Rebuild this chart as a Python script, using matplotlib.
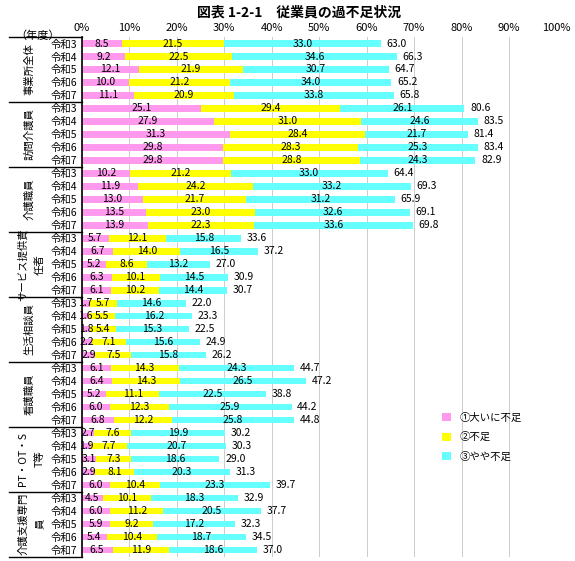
import numpy as np
import matplotlib.pyplot as plt

plt.rcParams['font.family'] = ['Noto Sans CJK JP', 'DejaVu Sans']

groups = [["事業所全体"], ["訪問介護員"], ["介護職員"], ["サービス提供責", "任者"],
          ["生活相談員"], ["看護職員"], ["PT・OT・S", "T等"], ["介護支援専門", "員"]]
years = ["令和3", "令和4", "令和5", "令和6", "令和7"]

big = [8.5, 9.2, 12.1, 10.0, 11.1,
       25.1, 27.9, 31.3, 29.8, 29.8,
       10.2, 11.9, 13.0, 13.5, 13.9,
       5.7, 6.7, 5.2, 6.3, 6.1,
       1.7, 1.6, 1.8, 2.2, 2.9,
       6.1, 6.4, 5.2, 6.0, 6.8,
       2.7, 1.9, 3.1, 2.9, 6.0,
       4.5, 6.0, 5.9, 5.4, 6.5]
short = [21.5, 22.5, 21.9, 21.2, 20.9,
         29.4, 31.0, 28.4, 28.3, 28.8,
         21.2, 24.2, 21.7, 23.0, 22.3,
         12.1, 14.0, 8.6, 10.1, 10.2,
         5.7, 5.5, 5.4, 7.1, 7.5,
         14.3, 14.3, 11.1, 12.3, 12.2,
         7.6, 7.7, 7.3, 8.1, 10.4,
         10.1, 11.2, 9.2, 10.4, 11.9]
some = [33.0, 34.6, 30.7, 34.0, 33.8,
        26.1, 24.6, 21.7, 25.3, 24.3,
        33.0, 33.2, 31.2, 32.6, 33.6,
        15.8, 16.5, 13.2, 14.5, 14.4,
        14.6, 16.2, 15.3, 15.6, 15.8,
        24.3, 26.5, 22.5, 25.9, 25.8,
        19.9, 20.7, 18.6, 20.3, 23.3,
        18.3, 20.5, 17.2, 18.7, 18.6]
total = [63.0, 66.3, 64.7, 65.2, 65.8,
         80.6, 83.5, 81.4, 83.4, 82.9,
         64.4, 69.3, 65.9, 69.1, 69.8,
         33.6, 37.2, 27.0, 30.9, 30.7,
         22.0, 23.3, 22.5, 24.9, 26.2,
         44.7, 47.2, 38.8, 44.2, 44.8,
         30.2, 30.3, 29.0, 31.3, 39.7,
         32.9, 37.7, 32.3, 34.5, 37.0]

c1, c2, c3 = '#ff99ee', '#ffff00', '#66ffff'
n = len(big)
y = np.arange(n)
big, short, some = np.array(big), np.array(short), np.array(some)

fig = plt.figure(figsize=(5.75, 5.61), dpi=100)
ax = fig.add_axes([0.142, 0.008, 0.826, 0.926])
ax.barh(y, big, height=0.5, color=c1, label='①大いに不足')
ax.barh(y, short, left=big, height=0.5, color=c2, label='②不足')
ax.barh(y, some, left=big + short, height=0.5, color=c3, label='③やや不足')
fs = 7.5
for i in range(n):
    ax.text(big[i] / 2, y[i], f"{big[i]:.1f}", ha='center', va='center', fontsize=fs)
    ax.text(big[i] + short[i] / 2, y[i], f"{short[i]:.1f}", ha='center', va='center', fontsize=fs)
    ax.text(big[i] + short[i] + some[i] / 2, y[i], f"{some[i]:.1f}", ha='center', va='center', fontsize=fs)
    ax.text(big[i] + short[i] + some[i] + 1.2, y[i], f"{total[i]:.1f}", ha='left', va='center', fontsize=fs)

ax.set_xlim(0, 100)
ax.set_ylim(n - 0.5, -0.5)
ax.set_xticks(range(0, 101, 10))
ax.set_xticklabels([f"{v}%" for v in range(0, 101, 10)], fontsize=8)
ax.xaxis.tick_top()
ax.tick_params(axis='x', length=0, pad=3)
ax.set_yticks(y)
ax.set_yticklabels(years * len(groups), fontsize=7.5)
ax.tick_params(axis='y', length=0, pad=3)
ax.grid(axis='x', color='#cccccc', lw=0.7)
ax.set_axisbelow(True)
for s in ['top', 'right', 'bottom']:
    ax.spines[s].set_visible(False)
ax.spines['left'].set_linewidth(1.2)

# group separators and labels in the left margin
x0 = -15.2
for g, lab in enumerate(groups):
    yb = g * 5 + 4.5
    ax.plot([x0, 0], [yb, yb], color='black', lw=1, clip_on=False)
    yc = g * 5 + 2
    if len(lab) == 1:
        ax.text(-11.0, yc, lab[0], rotation=90, ha='center', va='center', fontsize=7.5)
    else:
        ax.text(-12.3, yc, lab[0], rotation=90, ha='center', va='center', fontsize=7.5)
        ax.text(-8.8, yc, lab[1], rotation=90, ha='center', va='center', fontsize=7.5)
ax.plot([x0, 0], [-0.5, -0.5], color='black', lw=1, clip_on=False)

fig.text(0.065, 0.937, "（年度）", fontsize=8, ha='center', va='center')
fig.text(0.52, 0.978, "図表 1-2-1　従業員の過不足状況", fontsize=10, weight='bold',
         ha='center', va='center')
ax.legend(loc='upper left', bbox_to_anchor=(0.74, 0.295), frameon=False, fontsize=7.5,
          handlelength=0.8, handleheight=0.8, labelspacing=0.9)

fig.savefig('out.png', dpi=100)
